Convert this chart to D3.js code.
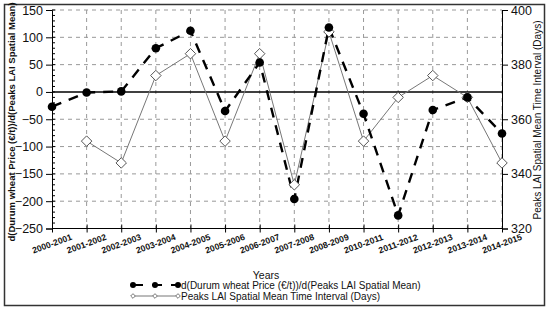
<!DOCTYPE html>
<html>
<head>
<meta charset="utf-8">
<script src="https://cdn.jsdelivr.net/npm/d3@7"></script>
<style>
  body { margin: 0; background: #fff; }
  text { font-family: "Liberation Sans", Arial, sans-serif; fill: #111; }
</style>
</head>
<body>
<svg id="chart" width="550" height="311"></svg>
<script>
// categories and values
var years = ['2000-2001', '2001-2002', '2002-2003', '2003-2004', '2004-2005', '2005-2006', '2006-2007',
  '2007-2008', '2008-2009', '2010-2011', '2011-2012', '2012-2013', '2013-2014', '2014-2015'];
var priceDeriv = [-27, -1, 1, 80, 112, -35, 54, -196, 118, -40, -226, -33, -10, -76];
var peakInterval = [null, 352, 344, 376, 384, 352, 384, 336, 392, 352, 368, 376, 368, 344];
var leftTicks = [-250, -200, -150, -100, -50, 0, 50, 100, 150];
var rightTicks = [320, 340, 360, 380, 400];

var svg = d3.select('#chart');
var m = { left: 52, right: 502, top: 10, bottom: 228.5 };

var x = d3.scalePoint().domain(years).range([m.left, m.right]);
var yL = d3.scaleLinear().domain([-250, 150]).range([m.bottom, m.top]);
var yR = d3.scaleLinear().domain([320, 400]).range([m.bottom, m.top]);

// outer frame
svg.append('rect')
  .attr('x', 4.5).attr('y', 4.5).attr('width', 540).attr('height', 301)
  .attr('fill', 'none').attr('stroke', '#333').attr('stroke-width', 1.5);

// grid
var grid = svg.append('g').attr('stroke', '#999').attr('stroke-dasharray', '4,4').attr('stroke-width', 1);
grid.selectAll('.gx').data(years.slice(1)).enter().append('line')
  .attr('x1', function (d) { return x(d); }).attr('x2', function (d) { return x(d); })
  .attr('y1', m.top).attr('y2', m.bottom);
grid.selectAll('.gy').data(d3.range(-200, 151, 50).filter(function (v) { return v !== 0; })).enter().append('line')
  .attr('x1', m.left).attr('x2', m.right)
  .attr('y1', function (d) { return yL(d); }).attr('y2', function (d) { return yL(d); });

// zero line
svg.append('line')
  .attr('x1', m.left).attr('x2', m.right + 1)
  .attr('y1', yL(0)).attr('y2', yL(0))
  .attr('stroke', '#000').attr('stroke-width', 1.6);

// left axis
var gl = svg.append('g').attr('transform', 'translate(' + m.left + ',0)')
  .call(d3.axisLeft(yL).tickValues(leftTicks).tickSize(6).tickPadding(3));
gl.selectAll('text').style('font-size', '12.5px').attr('fill', '#111');
gl.append('g').selectAll('line').data(d3.range(-250, 151, 10)).enter().append('line')
  .attr('x1', 0).attr('x2', 3)
  .attr('y1', function (d) { return yL(d); }).attr('y2', function (d) { return yL(d); })
  .attr('stroke', '#000');

// right axis
var gr = svg.append('g').attr('transform', 'translate(' + m.right + ',0)')
  .call(d3.axisRight(yR).tickValues(rightTicks).tickSize(6).tickPadding(3));
gr.selectAll('text').style('font-size', '12.5px').attr('fill', '#111');

// bottom axis
var gb = svg.append('g').attr('transform', 'translate(0,' + m.bottom + ')')
  .call(d3.axisBottom(x).tickSize(4).tickFormat(''));
gb.select('.domain').attr('d', 'M' + m.left + ',0H' + m.right);
gb.selectAll('.tick line').attr('y1', -4);
svg.selectAll('.domain').attr('stroke', '#000');

svg.append('g').selectAll('text').data(years).enter().append('text')
  .attr('transform', function (d) { return 'translate(' + (x(d) + 1) + ',' + (m.bottom + 18) + ') rotate(-20)'; })
  .attr('text-anchor', 'middle')
  .style('font-size', '8.7px').style('font-weight', 'bold')
  .text(function (d) { return d; });

// axis titles
svg.append('text')
  .attr('transform', 'translate(15,' + 122 + ') rotate(-90)')
  .attr('text-anchor', 'middle')
  .style('font-size', '9.5px').style('font-weight', 'bold')
  .text('d(Durum wheat Price (€/t))/d(Peaks LAI Spatial Mean)');

svg.append('text')
  .attr('transform', 'translate(541,' + 120 + ') rotate(-90)')
  .attr('text-anchor', 'middle')
  .style('font-size', '10px')
  .text('Peaks LAI Spatial Mean Time Interval (Days)');

svg.append('text')
  .attr('x', 266).attr('y', 279)
  .attr('text-anchor', 'middle')
  .style('font-size', '10.5px')
  .text('Years');

// series
var peakData = years.map(function (d, i) { return { k: d, v: peakInterval[i] }; })
  .filter(function (d) { return d.v !== null; });
var priceData = years.map(function (d, i) { return { k: d, v: priceDeriv[i] }; });

svg.append('path')
  .datum(peakData)
  .attr('d', d3.line().x(function (d) { return x(d.k); }).y(function (d) { return yR(d.v); }))
  .attr('fill', 'none').attr('stroke', '#777').attr('stroke-width', 1);

svg.append('path')
  .datum(priceData)
  .attr('d', d3.line().x(function (d) { return x(d.k); }).y(function (d) { return yL(d.v); }))
  .attr('fill', 'none').attr('stroke', '#000').attr('stroke-width', 2.4)
  .attr('stroke-dasharray', '10,8');

var diamond = d3.symbol().type(d3.symbolDiamond2).size(70);
svg.append('g').selectAll('path').data(peakData).enter().append('path')
  .attr('transform', function (d) { return 'translate(' + x(d.k) + ',' + yR(d.v) + ')'; })
  .attr('d', diamond)
  .attr('fill', '#fff').attr('stroke', '#555').attr('stroke-width', 1);

svg.append('g').selectAll('circle').data(priceData).enter().append('circle')
  .attr('cx', function (d) { return x(d.k); })
  .attr('cy', function (d) { return yL(d.v); })
  .attr('r', 4.3).attr('fill', '#000');

// legend
var lx = [133, 155, 178];
var leg1 = svg.append('g');
leg1.append('path').attr('d', 'M' + lx[0] + ',285H' + lx[2])
  .attr('stroke', '#000').attr('stroke-width', 2).attr('stroke-dasharray', '10,9');
leg1.selectAll('circle').data(lx).enter().append('circle')
  .attr('cx', function (d) { return d; }).attr('cy', 285).attr('r', 3).attr('fill', '#000');
leg1.append('text').attr('x', 181).attr('y', 289).style('font-size', '10px')
  .text('d(Durum wheat Price (€/t))/d(Peaks LAI Spatial Mean)');

var leg2 = svg.append('g');
leg2.append('path').attr('d', 'M' + lx[0] + ',296H' + lx[2])
  .attr('stroke', '#777').attr('stroke-width', 1);
leg2.selectAll('path.d').data(lx).enter().append('path')
  .attr('transform', function (d) { return 'translate(' + d + ',296)'; })
  .attr('d', d3.symbol().type(d3.symbolDiamond2).size(14))
  .attr('fill', '#fff').attr('stroke', '#777');
leg2.append('text').attr('x', 181).attr('y', 299.5).style('font-size', '10px')
  .text('Peaks LAI Spatial Mean Time Interval (Days)');
</script>
</body>
</html>
